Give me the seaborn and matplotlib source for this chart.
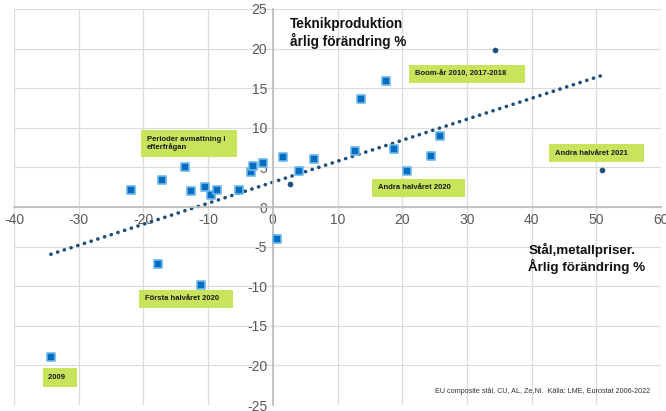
import numpy as np
import pandas as pd
import matplotlib
matplotlib.use("Agg")
import matplotlib.pyplot as plt
import seaborn as sns

# metallpriser (x) mot teknikproduktion (y), årlig förändring %
sq_x = [-21.9, -17.2, -13.5, -12.7, -10.5, -9.6, -8.7, -5.2, -3.3, -3.1, -1.5,
        1.6, 4.0, 6.3, 12.7, 13.7, 17.5, 18.7, 20.7, 24.5, 25.8,
        0.7, -17.8, -11.1, -34.3]
sq_y = [2.2, 3.4, 5.0, 2.0, 2.5, 1.5, 2.2, 2.2, 4.4, 5.2, 5.6,
        6.3, 4.6, 6.1, 7.1, 13.6, 15.9, 7.3, 4.5, 6.4, 9.0,
        -4.0, -7.2, -9.8, -19.0]
dot_x = [2.7, 34.3, 50.9]
dot_y = [2.9, 19.8, 4.7]

x_ticks = [-40, -30, -20, -10, 0, 10, 20, 30, 40, 50, 60]
y_ticks = [-25, -20, -15, -10, -5, 0, 5, 10, 15, 20, 25]

# textrutorna i Excel är bredare än texten -> mellanslag på slutet
notes = ["Perioder avmattning i   \nefterfrågan", "Boom-år 2010, 2017-2018      ",
         "Andra halvåret 2021     ", "Andra halvåret 2020    ",
         "Första halvåret 2020    ", "2009   "]
note_x = [-19.5, 22.0, 43.6, 16.2, -19.8, -34.7]
note_y = [8.0, 16.8, 6.8, 2.4, -11.6, -21.5]

sns.set_theme(style="white")
plt.rcParams['font.family'] = ['Liberation Sans', 'DejaVu Sans']
plt.rcParams['axes.unicode_minus'] = False

sq = pd.DataFrame({"x": sq_x, "y": sq_y})
dots = pd.DataFrame({"x": dot_x, "y": dot_y})
alla = pd.concat([sq, dots], ignore_index=True)

fig = plt.figure(figsize=(6.66, 4.11), dpi=100)
ax = fig.add_axes([14 / 666, 1 - 405 / 411, 647 / 666, 396 / 411])

sns.regplot(data=alla, x="x", y="y", scatter=False, ci=None, ax=ax,
            line_kws={"color": "#1f4e79", "lw": 2.6, "ls": (0, (0.05, 1.9)),
                      "dash_capstyle": "round"})
sns.scatterplot(data=sq, x="x", y="y", marker="s", s=32, color="#0a6cbf",
                edgecolor="#6ab8ec", linewidth=1.2, ax=ax, zorder=3)
sns.scatterplot(data=dots, x="x", y="y", marker="o", s=13, color="#1f4e79",
                edgecolor="#1f4e79", linewidth=0.5, ax=ax, zorder=3)

ax.set_xlim(-40, 60)
ax.set_ylim(-25, 25)
ax.set_xticks(x_ticks)
ax.set_yticks(y_ticks)
ax.grid(True, color="#dcdcdc", lw=0.9)
ax.set_axisbelow(True)
ax.set_xlabel("")
ax.set_ylabel("")
for s in ["top", "right"]:
    ax.spines[s].set_visible(False)
ax.spines["left"].set_position(("data", 0))
ax.spines["bottom"].set_position(("data", 0))
ax.spines["left"].set_color("#bdbdbd")
ax.spines["bottom"].set_color("#bdbdbd")
ax.tick_params(length=0, labelsize=10, labelcolor="#595959", pad=4)

ax.text(2.6, 24.0, "Teknikproduktion\nårlig förändring %", fontsize=9.8,
        fontweight="bold", color="#111111", va="top", ha="left", linespacing=1.15)
ax.text(39.5, -4.6, "Stål,metallpriser.\nÅrlig förändring %", fontsize=9.6,
        fontweight="bold", color="#111111", va="top", ha="left", linespacing=1.15)
ax.text(58.3, -23.2, "EU composite stål, CU, AL, Ze,Ni.  Källa: LME, Eurostat 2006-2022",
        fontsize=5.2, color="#333333", ha="right", va="center")

for t, x, y in zip(notes, note_x, note_y):
    ax.text(x, y, t, fontsize=5.5, fontweight="bold", color="#1a1a1a",
            ha="left", va="center", linespacing=1.1,
            bbox=dict(boxstyle="square,pad=0.75", fc="#c8e45c", ec="none"))

fig.savefig("out.png", dpi=100, facecolor="white")
